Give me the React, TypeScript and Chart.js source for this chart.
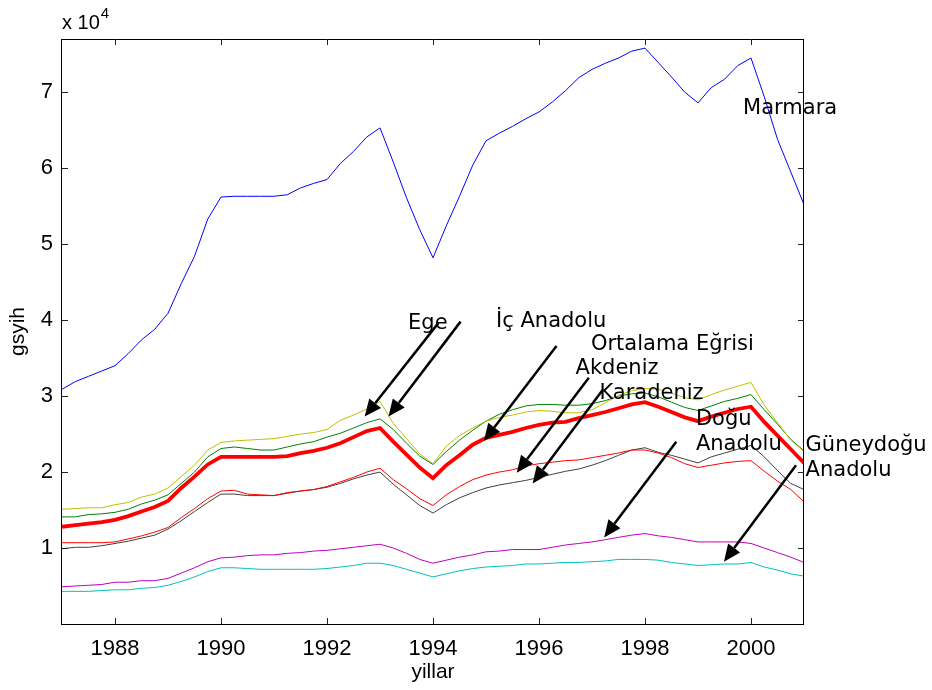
import React, { useEffect, useRef } from 'react';
import { Chart, registerables } from 'chart.js';

Chart.register(...registerables);

// Quarterly time points (years)
const quarters = [
  1987.0, 1987.25, 1987.5, 1987.75, 1988.0, 1988.25, 1988.5, 1988.75,
  1989.0, 1989.25, 1989.5, 1989.75, 1990.0, 1990.25, 1990.5, 1990.75,
  1991.0, 1991.25, 1991.5, 1991.75, 1992.0, 1992.25, 1992.5, 1992.75,
  1993.0, 1993.25, 1993.5, 1993.75, 1994.0, 1994.25, 1994.5, 1994.75,
  1995.0, 1995.25, 1995.5, 1995.75, 1996.0, 1996.25, 1996.5, 1996.75,
  1997.0, 1997.25, 1997.5, 1997.75, 1998.0, 1998.25, 1998.5, 1998.75,
  1999.0, 1999.25, 1999.5, 1999.75, 2000.0, 2000.25, 2000.5, 2000.75,
  2001.0,
];

// gsyih values, in units of 10^4
const marmara = [
  3.09, 3.19, 3.26, 3.33, 3.40, 3.56, 3.74, 3.88,
  4.09, 4.48, 4.84, 5.33, 5.62, 5.63, 5.63, 5.63,
  5.63, 5.65, 5.74, 5.80, 5.85, 6.06, 6.22, 6.41,
  6.53, 6.08, 5.61, 5.19, 4.82, 5.24, 5.63, 6.04,
  6.36, 6.46, 6.55, 6.65, 6.74, 6.87, 7.02, 7.19,
  7.30, 7.38, 7.45, 7.54, 7.58, 7.39, 7.20, 7.00,
  6.86, 7.06, 7.17, 7.35, 7.45, 6.94, 6.38, 5.95,
  5.52,
];
const ege = [
  1.51, 1.52, 1.53, 1.53, 1.57, 1.60, 1.67, 1.71,
  1.79, 1.94, 2.09, 2.29, 2.39, 2.41, 2.42, 2.43,
  2.44, 2.47, 2.50, 2.52, 2.56, 2.68, 2.75, 2.83,
  2.93, 2.64, 2.44, 2.24, 2.11, 2.34, 2.48, 2.58,
  2.67, 2.72, 2.75, 2.79, 2.81, 2.80, 2.78, 2.78,
  2.82, 2.91, 3.01, 3.07, 3.10, 3.09, 3.04, 2.98,
  2.95, 3.02, 3.08, 3.13, 3.18, 2.88, 2.65, 2.42,
  2.27,
];
const icAnadolu = [
  1.41, 1.41, 1.44, 1.45, 1.47, 1.51, 1.58, 1.63,
  1.70, 1.85, 2.00, 2.20, 2.31, 2.33, 2.31, 2.29,
  2.29, 2.33, 2.37, 2.40, 2.46, 2.51, 2.58, 2.65,
  2.70, 2.56, 2.38, 2.21, 2.10, 2.27, 2.42, 2.55,
  2.67, 2.76, 2.82, 2.87, 2.89, 2.89, 2.88, 2.88,
  2.90, 2.94, 3.00, 3.03, 3.04, 2.99, 2.92, 2.85,
  2.81, 2.87, 2.93, 2.97, 3.02, 2.82, 2.63, 2.43,
  2.28,
];
const ortalama = [
  1.28, 1.30, 1.32, 1.34, 1.37, 1.42, 1.48, 1.54,
  1.62, 1.79, 1.94, 2.10, 2.20, 2.20, 2.20, 2.20,
  2.20, 2.21, 2.25, 2.28, 2.32, 2.38, 2.46, 2.54,
  2.58, 2.40, 2.23, 2.06, 1.92, 2.09, 2.22, 2.36,
  2.45, 2.49, 2.53, 2.58, 2.62, 2.65, 2.66, 2.71,
  2.75, 2.79, 2.84, 2.89, 2.92, 2.86, 2.79, 2.72,
  2.67, 2.73, 2.78, 2.83, 2.86, 2.66, 2.48, 2.30,
  2.12,
];
const akdeniz = [
  1.07, 1.07, 1.07, 1.07, 1.08, 1.12, 1.16, 1.21,
  1.27, 1.40, 1.52, 1.65, 1.75, 1.76, 1.71, 1.70,
  1.69, 1.73, 1.75, 1.77, 1.81, 1.87, 1.93, 2.00,
  2.05, 1.90, 1.78, 1.65, 1.56, 1.70, 1.81, 1.90,
  1.96, 2.00, 2.03, 2.08, 2.11, 2.13, 2.15, 2.16,
  2.19, 2.22, 2.25, 2.29, 2.29, 2.25, 2.19, 2.11,
  2.06, 2.09, 2.12, 2.14, 2.15, 2.01, 1.88, 1.77,
  1.61,
];
const karadeniz = [
  0.99, 1.01, 1.01, 1.03, 1.06, 1.09, 1.13, 1.17,
  1.25, 1.36, 1.48, 1.60, 1.71, 1.71, 1.69, 1.69,
  1.69, 1.72, 1.75, 1.77, 1.80, 1.85, 1.91, 1.96,
  2.00, 1.84, 1.70, 1.56, 1.46, 1.57, 1.66, 1.73,
  1.79, 1.83, 1.86, 1.89, 1.93, 1.97, 2.01, 2.04,
  2.09, 2.15, 2.22, 2.29, 2.32, 2.26, 2.22, 2.17,
  2.12, 2.20, 2.25, 2.30, 2.35, 2.20, 2.02, 1.85,
  1.77,
];
const doguAnadolu = [
  0.49, 0.50, 0.51, 0.52, 0.55, 0.55, 0.57, 0.57,
  0.60, 0.67, 0.74, 0.82, 0.87, 0.88, 0.90, 0.91,
  0.91, 0.93, 0.94, 0.96, 0.97, 0.99, 1.01, 1.03,
  1.05, 1.00, 0.93, 0.85, 0.80, 0.84, 0.88, 0.91,
  0.95, 0.96, 0.98, 0.98, 0.98, 1.01, 1.04, 1.06,
  1.08, 1.11, 1.14, 1.17, 1.19, 1.16, 1.14, 1.11,
  1.08, 1.08, 1.08, 1.08, 1.06, 1.00, 0.94, 0.88,
  0.81,
];
const guneydoguAnadolu = [
  0.43, 0.43, 0.43, 0.44, 0.45, 0.45, 0.47, 0.48,
  0.51, 0.56, 0.62, 0.69, 0.74, 0.74, 0.73, 0.72,
  0.72, 0.72, 0.72, 0.72, 0.73, 0.75, 0.77, 0.80,
  0.80, 0.77, 0.72, 0.67, 0.62, 0.66, 0.70, 0.73,
  0.75, 0.76, 0.77, 0.79, 0.79, 0.80, 0.81, 0.81,
  0.82, 0.83, 0.85, 0.85, 0.85, 0.84, 0.81, 0.79,
  0.77, 0.78, 0.79, 0.79, 0.81, 0.75, 0.71, 0.66,
  0.63,
];

const xTicks = [1988, 1990, 1992, 1994, 1996, 1998, 2000];
const yTicks = [1, 2, 3, 4, 5, 6, 7];

// Text annotations: left x (year), baseline y (10^4 units)
const textLabels = [
  { lines: ['Marmara'], x: 1999.85, y: 6.71 },
  { lines: ['Ege'], x: 1993.53, y: 3.88 },
  { lines: ['İç Anadolu'], x: 1995.19, y: 3.91 },
  { lines: ['Ortalama Eğrisi'], x: 1996.98, y: 3.6 },
  { lines: ['Akdeniz'], x: 1996.69, y: 3.29 },
  { lines: ['Karadeniz'], x: 1997.14, y: 2.96 },
  { lines: ['Doğu', 'Anadolu'], x: 1998.96, y: 2.62 },
  { lines: ['Güneydoğu', 'Anadolu'], x: 2001.03, y: 2.28 },
];

// Arrows: from (tail) -> to (tip), in data units
const arrowTails = [
  [1994.1, 3.96], [1994.52, 3.98], [1996.33, 3.66], [1996.94, 3.24],
  [1997.2, 3.08], [1998.59, 2.4], [2000.85, 2.09],
];
const arrowTips = [
  [1992.71, 2.73], [1993.16, 2.73], [1994.96, 2.41], [1995.58, 1.99],
  [1995.88, 1.85], [1997.23, 1.14], [1999.49, 0.82],
];

const framePlugin = {
  id: 'matlabFrame',
  afterDatasetsDraw(chart: any) {
    const { ctx, chartArea: a, scales } = chart;
    const xs = scales.x;
    const ys = scales.y;
    ctx.save();

    // axes box
    ctx.strokeStyle = '#000';
    ctx.lineWidth = 1;
    ctx.strokeRect(a.left - 0.5, a.top + 0.5, a.right - a.left, a.bottom - a.top);

    // inward ticks on all four sides
    ctx.strokeStyle = '#222';
    ctx.beginPath();
    const tl = 6;
    for (const t of xTicks) {
      const px = Math.round(xs.getPixelForValue(t)) + 0.5;
      ctx.moveTo(px, a.bottom);
      ctx.lineTo(px, a.bottom - tl);
      ctx.moveTo(px, a.top);
      ctx.lineTo(px, a.top + tl);
    }
    for (const t of yTicks) {
      const py = Math.round(ys.getPixelForValue(t)) + 0.5;
      ctx.moveTo(a.left, py);
      ctx.lineTo(a.left + tl, py);
      ctx.moveTo(a.right, py);
      ctx.lineTo(a.right - tl, py);
    }
    ctx.stroke();

    // exponent label
    ctx.fillStyle = '#000';
    ctx.textAlign = 'left';
    ctx.textBaseline = 'alphabetic';
    ctx.font = '20px "Liberation Sans", Arial, sans-serif';
    const base = 'x 10';
    ctx.fillText(base, a.left, a.top - 10);
    const w = ctx.measureText(base).width;
    ctx.font = '15px "Liberation Sans", Arial, sans-serif';
    ctx.fillText('4', a.left + w + 1, a.top - 21);

    // arrows
    ctx.strokeStyle = '#000';
    ctx.fillStyle = '#000';
    ctx.lineWidth = 2.5;
    for (let i = 0; i < arrowTails.length; i++) {
      const x1 = xs.getPixelForValue(arrowTails[i][0]);
      const y1 = ys.getPixelForValue(arrowTails[i][1]);
      const x2 = xs.getPixelForValue(arrowTips[i][0]);
      const y2 = ys.getPixelForValue(arrowTips[i][1]);
      const ang = Math.atan2(y2 - y1, x2 - x1);
      const hl = 17;
      const hw = 7.5;
      const bx = x2 - hl * Math.cos(ang);
      const by = y2 - hl * Math.sin(ang);
      ctx.beginPath();
      ctx.moveTo(x1, y1);
      ctx.lineTo(bx, by);
      ctx.stroke();
      ctx.beginPath();
      ctx.moveTo(x2, y2);
      ctx.lineTo(bx + hw * Math.sin(ang), by - hw * Math.cos(ang));
      ctx.lineTo(bx - hw * Math.sin(ang), by + hw * Math.cos(ang));
      ctx.closePath();
      ctx.fill();
    }

    // text labels
    ctx.font = '21px "DejaVu Sans", Verdana, sans-serif';
    ctx.fillStyle = '#000';
    for (const lab of textLabels) {
      const px = xs.getPixelForValue(lab.x);
      const py = ys.getPixelForValue(lab.y);
      lab.lines.forEach((ln, i) => ctx.fillText(ln, px, py + i * 25));
    }
    ctx.restore();
  },
};

export default function App() {
  const ref = useRef<HTMLCanvasElement | null>(null);
  useEffect(() => {
    if (!ref.current) return;
    const mk = (label: string, vals: number[], color: string, width: number) => ({
      label,
      data: quarters.map((q, i) => ({ x: q, y: vals[i] })),
      borderColor: color,
      backgroundColor: color,
      borderWidth: width,
      pointRadius: 0,
      tension: 0,
      fill: false,
    });
    const tickFont = { family: '"Liberation Sans", Arial, sans-serif', size: 22 };
    const chart = new Chart(ref.current, {
      type: 'line',
      data: {
        datasets: [
          mk('Ortalama Eğrisi', ortalama, '#ff0000', 3.8),
          mk('Marmara', marmara, '#0000ff', 1),
          mk('Ege', ege, '#bfbf00', 1),
          mk('İç Anadolu', icAnadolu, '#008000', 1),
          mk('Akdeniz', akdeniz, '#ff0000', 1),
          mk('Karadeniz', karadeniz, '#404040', 1),
          mk('Doğu Anadolu', doguAnadolu, '#bf00bf', 1),
          mk('Güneydoğu Anadolu', guneydoguAnadolu, '#00bfbf', 1),
        ],
      },
      options: {
        animation: false,
        responsive: false,
        events: [],
        layout: { padding: { left: 0, top: 39, right: 128, bottom: 0 } },
        plugins: { legend: { display: false }, tooltip: { enabled: false } },
        scales: {
          x: {
            type: 'linear',
            min: 1987,
            max: 2001,
            grid: { display: false, drawTicks: false },
            border: { display: false },
            afterBuildTicks: (s: any) => { s.ticks = xTicks.map((v) => ({ value: v })); },
            afterFit: (s: any) => { s.height = 66; },
            ticks: { font: tickFont, color: '#000', padding: 12, maxRotation: 0, autoSkip: false, callback: (v: any) => String(v) },
            title: { display: true, text: 'yillar', color: '#000', font: { family: '"Liberation Sans", Arial, sans-serif', size: 21 }, padding: { top: 0, bottom: 5 } },
          },
          y: {
            type: 'linear',
            min: 0,
            max: 7.7,
            grid: { display: false, drawTicks: false },
            border: { display: false },
            afterBuildTicks: (s: any) => { s.ticks = yTicks.map((v) => ({ value: v })); },
            afterFit: (s: any) => { s.width = 62; },
            ticks: { font: tickFont, color: '#000', padding: 9, autoSkip: false, callback: (v: any) => String(v) },
            title: { display: true, text: 'gsyih', color: '#000', font: { family: '"Liberation Sans", Arial, sans-serif', size: 21 }, padding: { top: 6, bottom: 0 } },
          },
        },
      },
      plugins: [framePlugin],
    } as any);
    return () => chart.destroy();
  }, []);
  return (
    <div style={{ position: 'fixed', left: 0, top: 0, width: 932, height: 690, background: '#fff' }}>
      <canvas ref={ref} width={932} height={690} style={{ display: 'block' }} />
    </div>
  );
}
